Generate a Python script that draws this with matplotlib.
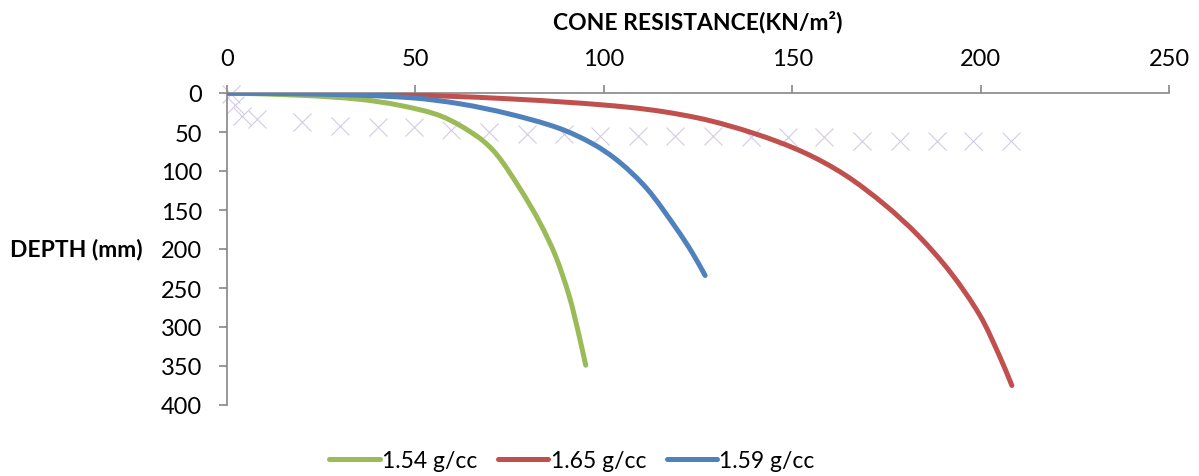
import matplotlib
matplotlib.use("Agg")
import matplotlib.pyplot as plt
from matplotlib.path import Path
from matplotlib.patches import PathPatch
from matplotlib.lines import Line2D
import numpy as np

plt.rcParams['font.family'] = ['Lato', 'DejaVu Sans']

# cone resistance (kN/m2) vs penetration depth (mm) for each density
res_154 = [0, 20, 35, 46, 57, 66.5, 71.6, 77.8, 83, 87.2, 90.8, 93.3, 95.2]
dep_154 = [0, 3, 8, 16, 30, 56, 79, 123, 166, 209, 260, 308, 349]

res_165 = [0, 40, 75, 107, 125, 140, 153, 164, 174.5, 183.5, 192, 199.8, 205, 208.3]
dep_165 = [0, 1.5, 7.5, 18.5, 32, 52, 76, 105, 143, 183, 230, 285, 337, 375]

res_159 = [0, 25, 48.6, 62, 75, 88, 97, 104, 111.5, 119.3, 123.5, 126.9]
dep_159 = [0, 1.5, 6, 14, 27, 45, 65, 88, 123, 174, 205, 234]

# extra unlabelled marker series
mark_x = [1, 2, 4, 8, 20, 30, 40, 49.5, 59.5, 69.5, 79.5, 89.5, 99, 109, 119,
          129, 139, 149, 158.5, 168.5, 178.5, 188.5, 198, 208]
mark_y = [1, 15, 29, 33, 37.5, 42, 43, 44, 47, 50, 53, 53, 55, 55, 55,
          55, 57, 57, 57, 61, 61, 61, 61, 62]

x_ticks = [0, 50, 100, 150, 200, 250]
y_ticks = [0, 50, 100, 150, 200, 250, 300, 350, 400]

labels = ['1.54 g/cc', '1.65 g/cc', '1.59 g/cc']
colors = ['#9BBB59', '#C0504D', '#4F81BD']


def smooth_path(xs, ys, sx=3.77, sy=0.78):
    # cubic bezier through the points, handles sized by chord length
    # (sx, sy roughly turn data units into screen pixels)
    p = np.column_stack([xs, ys]).astype(float)
    n = len(p)
    scale = np.array([sx, sy])
    d = np.linalg.norm(np.diff(p, axis=0) * scale, axis=1)
    m = np.zeros_like(p)
    m[0] = (p[1] - p[0]) / d[0]
    m[-1] = (p[-1] - p[-2]) / d[-1]
    for i in range(1, n - 1):
        m[i] = (p[i + 1] - p[i - 1]) / (d[i - 1] + d[i])
    verts = [p[0]]
    codes = [Path.MOVETO]
    for i in range(n - 1):
        verts += [p[i] + m[i] * d[i] / 3, p[i + 1] - m[i + 1] * d[i] / 3, p[i + 1]]
        codes += [Path.CURVE4] * 3
    return Path(verts, codes)


fig = plt.figure(figsize=(11.99, 4.77), dpi=100)
ax = fig.add_axes([227 / 1199, 1 - 406 / 477, 942 / 1199, 312 / 477])

ax.plot(mark_x, mark_y, linestyle='none', marker='x', markersize=13,
        markeredgewidth=0.8, color='#d3cbe6', zorder=1, clip_on=False)

for xs, ys, c in [(res_154, dep_154, colors[0]),
                  (res_165, dep_165, colors[1]),
                  (res_159, dep_159, colors[2])]:
    ax.add_patch(PathPatch(smooth_path(xs, ys), facecolor='none', edgecolor=c,
                           lw=3.6, capstyle='round', zorder=3))

ax.set_xlim(0, 250)
ax.set_ylim(400, 0)
ax.set_xticks(x_ticks)
ax.set_yticks(y_ticks)

ax.xaxis.tick_top()
for s in ['right', 'bottom']:
    ax.spines[s].set_visible(False)
for s in ['top', 'left']:
    ax.spines[s].set_color('#868686')
    ax.spines[s].set_linewidth(1.2)
ax.tick_params(axis='both', colors='#868686', labelcolor='black', labelsize=17,
               length=6, width=1.2, direction='out')
ax.tick_params(axis='x', pad=11)
ax.tick_params(axis='y', pad=12)

fig.text(698 / 1199, 1 - 22 / 477, 'CONE RESISTANCE(KN/m²)', ha='center',
         va='center', fontsize=16.5, fontweight='bold')
fig.text(10 / 1199, 1 - 250 / 477, 'DEPTH (mm)', ha='left', va='center',
         fontsize=16.5, fontweight='bold')

handles = [Line2D([0], [0], color=c, lw=3.6, solid_capstyle='round') for c in colors]
fig.legend(handles, labels, loc='center', bbox_to_anchor=(572 / 1199, 1 - 462 / 477),
           ncol=3, frameon=False, fontsize=16.5, handlelength=2.2,
           handletextpad=0.1, columnspacing=0.9)

fig.savefig('out.png', dpi=100)
